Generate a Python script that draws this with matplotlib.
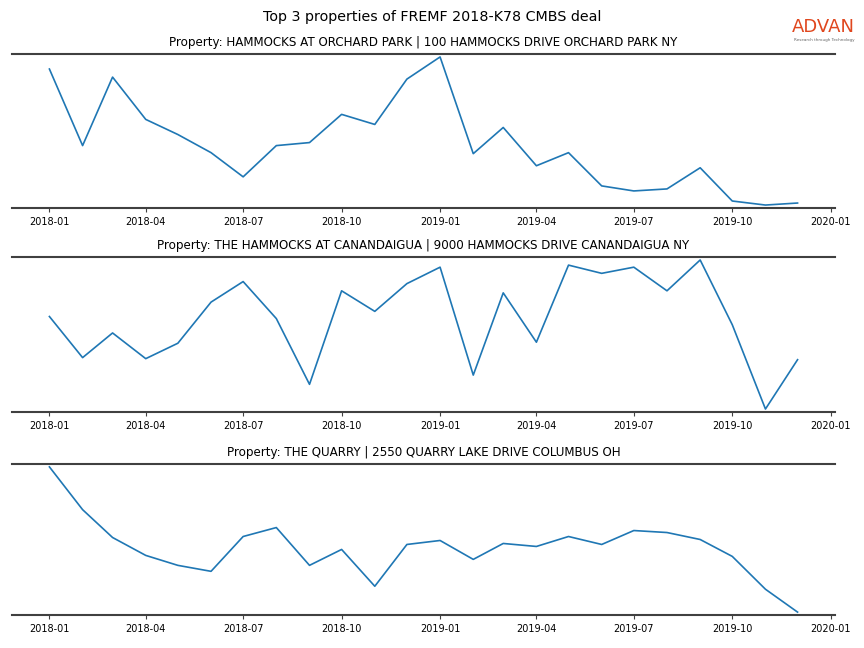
import pandas as pd
import matplotlib
matplotlib.use('Agg')
import matplotlib.pyplot as plt
import matplotlib.dates as mdates

months = pd.date_range('2018-01-01', '2019-12-01', freq='MS')

titles = [
	'Property: HAMMOCKS AT ORCHARD PARK | 100 HAMMOCKS DRIVE ORCHARD PARK NY',
	'Property: THE HAMMOCKS AT CANANDAIGUA | 9000 HAMMOCKS DRIVE CANANDAIGUA NY',
	'Property: THE QUARRY | 2550 QUARRY LAKE DRIVE COLUMBUS OH',
]

# monthly visit counts (estimated from the chart)
orchard_park = [138, 62, 130, 88, 73, 55, 31, 62, 65, 93, 83, 128,
				150, 54, 80, 42, 55, 22, 17, 19, 40, 7, 3, 5]
canandaigua = [94, 54, 78, 53, 68, 108, 128, 92, 28, 119, 99, 126,
			   142, 37, 117, 69, 144, 136, 142, 119, 149, 86, 4, 52]
quarry = [149, 106, 78, 60, 50, 44, 79, 88, 50, 66, 29, 71,
		  75, 56, 72, 69, 79, 71, 85, 83, 76, 59, 26, 3]

series = [orchard_park, canandaigua, quarry]


def main():
	fig = plt.figure(figsize=(8.64, 6.48), dpi=100)

	boxes = [(0.0139, 0.679, 0.9525, 0.2377),
			 (0.0139, 0.3642, 0.9525, 0.2392),
			 (0.0139, 0.0509, 0.9525, 0.2331)]

	for box, title, values in zip(boxes, titles, series):
		ax = fig.add_axes(box)
		ax.plot(months, values, color='#1f77b4', linewidth=1.2)
		ax.margins(y=0.02)
		ax.set_title(title, fontsize=8.6, pad=6)
		for side in ['left', 'right']:
			ax.spines[side].set_visible(False)
		for side in ['top', 'bottom']:
			ax.spines[side].set_linewidth(1.5)
			ax.spines[side].set_color('#404040')
		ax.set_yticks([])
		ax.xaxis.set_major_locator(mdates.MonthLocator(bymonth=[1, 4, 7, 10]))
		ax.xaxis.set_major_formatter(mdates.DateFormatter('%Y-%m'))
		ax.tick_params(axis='x', labelsize=7, length=3, color='#404040')

	fig.suptitle('Top 3 properties of FREMF 2018-K78 CMBS deal', fontsize=10.3, y=0.985)

	# logo
	fig.text(0.9535, 0.958, 'ADVAN', color='#e0471e', fontsize=13,
			 fontweight='medium', ha='center', va='center')
	fig.text(0.9535, 0.938, 'Research through Technology', color='#666666',
			 fontsize=3, ha='center', va='center')

	plt.savefig('out.png', dpi=100)
	plt.close()

	return


if __name__ == '__main__':
	main()
